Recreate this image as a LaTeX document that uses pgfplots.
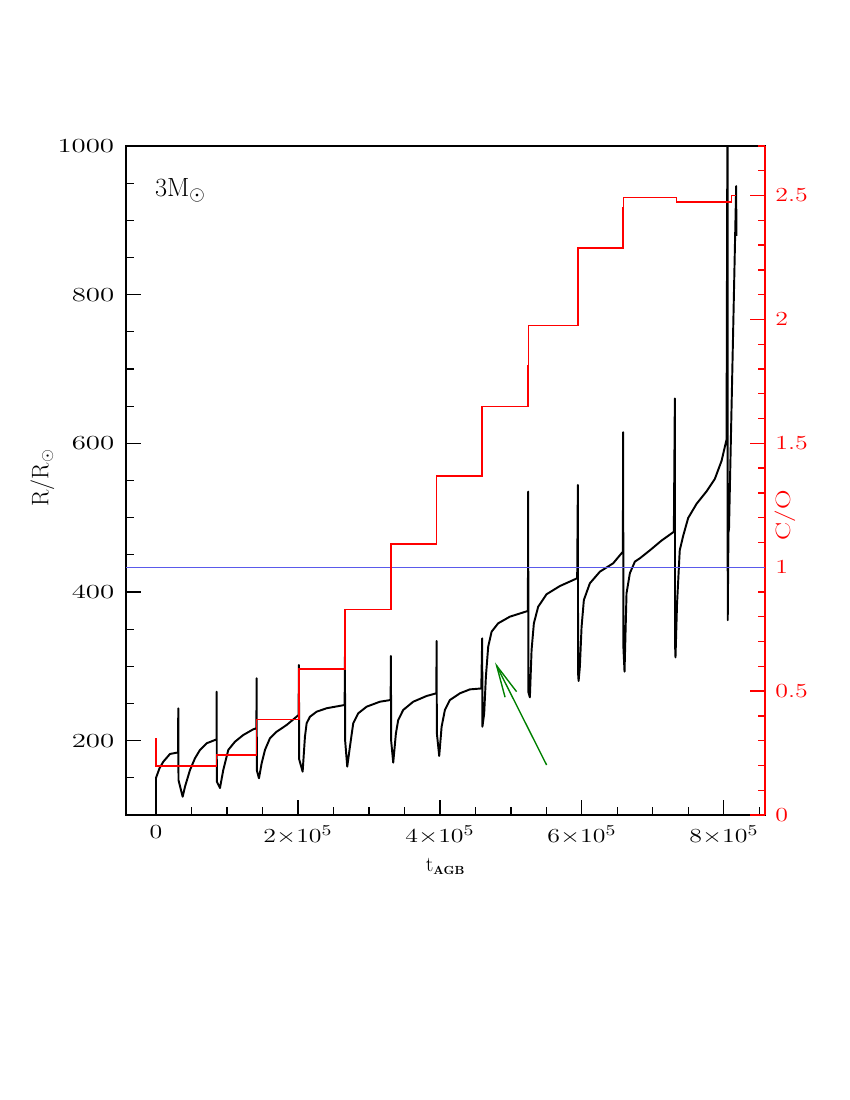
\documentclass[border=0pt]{standalone}
\usepackage{graphicx}
\usepackage{pgfplots}
\pgfplotsset{compat=1.18}
\usepackage{pgfplotstable}
\definecolor{cored}{RGB}{255,0,0}
\definecolor{arrowgreen}{RGB}{0,128,0}
\definecolor{refblue}{RGB}{90,90,235}
\newcommand{\wide}[1]{\scalebox{1.3}[1]{#1}}
\newcommand{\wider}[1]{\scalebox{1.45}[1]{#1}}

\pgfplotstableread{
t R
0 90
0 149.8
5000 163
10280 171.7
19720 182.1
29150 183.8
30990 184.1
31410 243.5
31700 147
37600 124.6
40850 138
47890 160.5
54930 176.3
61970 187.5
71410 196.5
83100 200.9
85300 201.5
85490 265.9
85700 145
90140 136.3
94790 160.5
101830 187.5
111270 198.6
122960 207.6
137040 215.3
141410 216.6
141830 283.9
142100 160
145070 149.4
148870 169.6
153520 187.5
160560 203.2
170000 212.1
184080 221.1
200840 234.5
201410 301.8
201700 175
206620 158.3
209860 205.3
212250 223.4
216900 232.2
226340 239
240420 243.6
265780 248
266200 313
266500 200
269440 165
273240 191.9
277890 223.4
284930 236.8
296760 245.7
315490 252.4
330560 254.7
331000 314
331300 200
334240 170.4
338030 209.9
341270 227.8
348310 241.3
362400 252.4
381270 260.1
394940 263.7
395360 334.1
395700 210
399020 179.4
402400 218.8
407040 241.3
414080 254.7
428170 263.7
442250 269
458300 270.2
459570 337.7
459900 218.8
462390 236.8
464790 286.1
468030 326.4
472820 346.6
482120 357.9
498590 366.8
523940 374.5
524370 535
524700 265
526760 258.3
529150 322
532390 357.9
538450 380.2
550280 397
569010 408
593380 418.5
594360 544
594700 290
595400 280.3
597180 299.5
599580 353
602820 389.3
611270 411.7
625350 427.3
644080 438.6
657740 454.2
658200 615
658500 326
660100 292.8
662920 398.3
667600 425.2
674650 440.8
681670 445.3
695770 456
712000 469
729580 481
731000 660.4
731300 328.7
731900 312
734080 384
737880 456
742690 475.4
749740 499.5
761570 518.6
775650 535.4
787340 552.2
796770 576.3
803810 605
805220 1100
805500 362
806500 480
807300 485
817400 946
817700 879
}\radiusdata

\pgfplotstableread{
t CO
0 0.309
0 0.198
85490 0.198
85490 0.242
141830 0.242
141830 0.386
201410 0.386
201410 0.590
266200 0.590
266200 0.829
331000 0.829
331000 1.093
395360 1.093
395360 1.368
459570 1.368
459570 1.649
524370 1.649
524370 1.815
524700 1.815
524700 1.976
594360 1.976
594360 2.289
658200 2.289
658200 2.450
658700 2.450
658700 2.493
733400 2.493
733400 2.473
810600 2.473
810600 2.500
817800 2.500
}\codata

\begin{document}
\begin{tikzpicture}
\path[use as bounding box] (0,0) rectangle (8.5in,11in);
\begin{axis}[
  at={(1.26in,2.85in)}, anchor=south west,
  scale only axis, width=6.39in, height=6.69in,
  xmin=-42250, xmax=858000, ymin=100, ymax=1000,
  scaled x ticks=false, scaled y ticks=false,
  xtick={0,200000,400000,600000,800000},
  xticklabels={\wide{$0$},\wide{$2{\times}10^{5}$},\wide{$4{\times}10^{5}$},\wide{$6{\times}10^{5}$},\wide{$8{\times}10^{5}$}},
  minor xtick={50000,100000,150000,250000,300000,350000,450000,500000,550000,650000,700000,750000,850000},
  ytick={200,400,600,800,1000},
  yticklabel={\wider{$\pgfmathprintnumber[1000 sep={}]{\tick}$}},
  minor ytick={150,250,300,350,450,500,550,650,700,750,850,900,950},
  xtick pos=bottom, ytick pos=left,
  tick align=inside,
  major tick length=11pt, minor tick length=5.5pt,
  axis line style={line width=0.9pt},
  tick style={black, line width=0.9pt},
  tick label style={font=\fontsize{15}{15}\selectfont},
  yticklabel style={xshift=-5pt},
  xticklabel style={yshift=-4pt},
  xlabel={t$_{\textbf{\fontsize{8.5}{9}\selectfont AGB}}$},
  xlabel style={font=\fontsize{15.5}{18}\selectfont, at={(axis description cs:0.5,-0.085)}, anchor=base},
  ylabel={R/R$_{\odot}$},
  ylabel style={font=\fontsize{17.28}{20}\selectfont, at={(axis description cs:-0.131,0.504)}, anchor=center},
]
\addplot[black, line width=1.4pt, line join=round] table[x=t, y=R] {\radiusdata};
\addplot[arrowgreen, line width=1pt] coordinates {(550300,167.3) (479900,300.9)};
\addplot[arrowgreen, line width=1pt] coordinates {(491800,258.4) (479900,300.9) (508000,265.9)};
\node[anchor=base west, font=\fontsize{19}{20}\selectfont, inner sep=0pt] at (rel axis cs:0.045,0.924) {3M$_{\odot}$};
\end{axis}
\begin{axis}[
  at={(1.26in,2.85in)}, anchor=south west,
  scale only axis, width=6.39in, height=6.69in,
  xmin=-42250, xmax=858000, ymin=0, ymax=2.7,
  axis x line=none, axis y line*=right,
  ytick={0,0.5,1,1.5,2,2.5},
  yticklabel={\wide{$\pgfmathprintnumber{\tick}$}},
  minor ytick={0.1,0.2,0.3,0.4,0.6,0.7,0.8,0.9,1.1,1.2,1.3,1.4,1.6,1.7,1.8,1.9,2.1,2.2,2.3,2.4,2.6,2.7},
  tick align=inside,
  major tick length=10.5pt, minor tick length=5pt,
  y axis line style={cored, line width=0.9pt},
  tick style={cored, line width=0.9pt},
  yticklabel style={cored, xshift=4pt, font=\fontsize{15}{15}\selectfont},
  ylabel={\wide{C/O}},
  ylabel style={cored, font=\fontsize{15}{18}\selectfont, at={(axis description cs:1.031,0.448)}, anchor=center},
]
\addplot[refblue, line width=0.5pt] coordinates {(-42250,1) (858000,1)};
\addplot[cored, line width=1.1pt, line join=miter] table[x=t, y=CO] {\codata};
\end{axis}
\end{tikzpicture}
\end{document}
